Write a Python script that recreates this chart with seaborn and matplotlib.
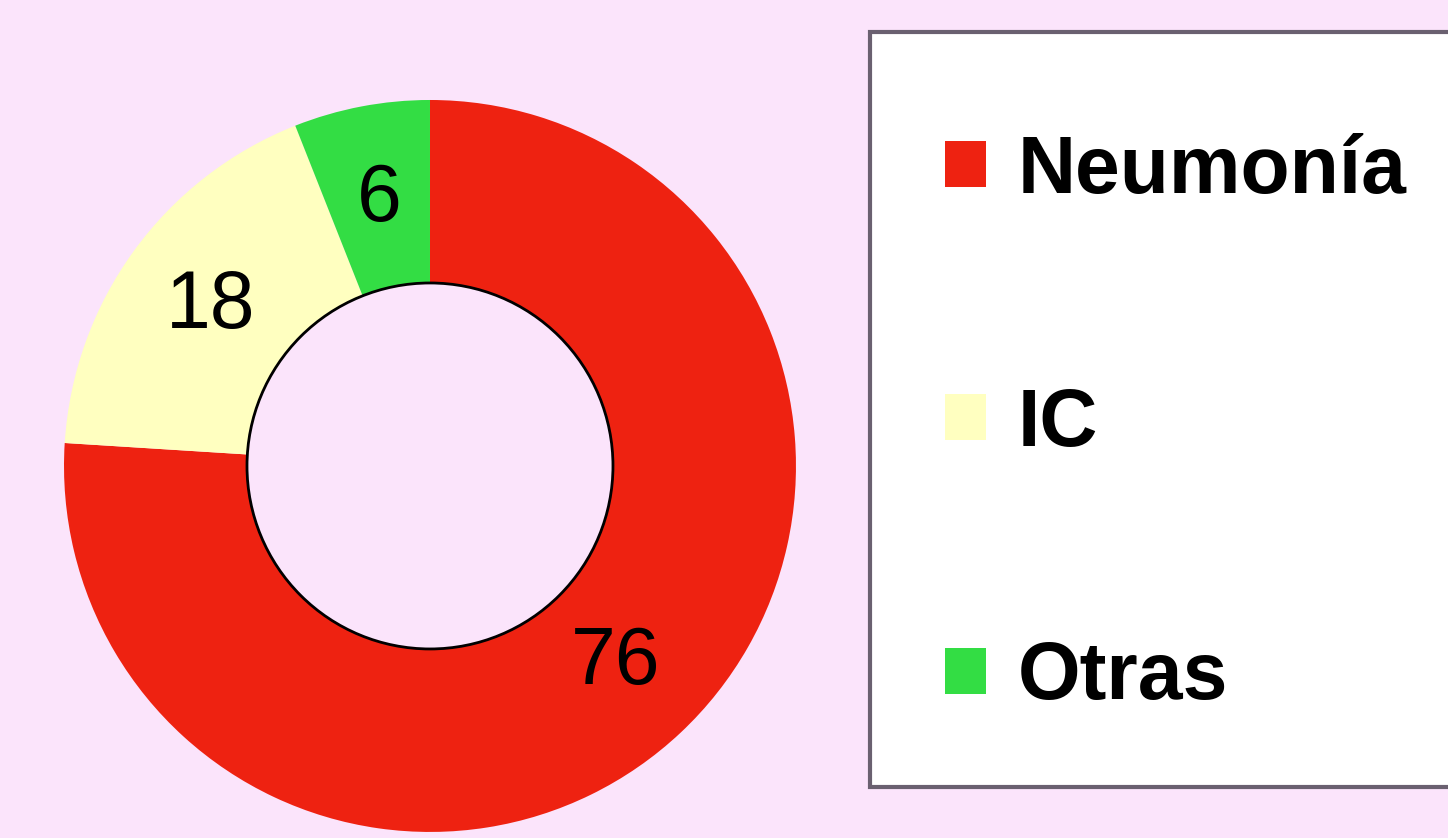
import seaborn as sns
import matplotlib.pyplot as plt
from matplotlib.patches import Rectangle

# data
labels = ['Neumonía', 'IC', 'Otras']
values = [76, 18, 6]
colors = ['#EE2211', '#FFFFC0', '#33DD44']

bg = '#FBE4FB'

sns.set_theme(style='white')
plt.rcParams['font.family'] = ['Liberation Sans', 'DejaVu Sans']
plt.rcParams['text.color'] = 'black'

fig = plt.figure(figsize=(14.48, 8.38), dpi=100, facecolor=bg)

# donut
ax = fig.add_axes([0.0442, 0.0072, 0.5055, 0.8735])
ax.set_facecolor(bg)
wedges, texts, autotexts = ax.pie(
    values, colors=colors, startangle=90, counterclock=False,
    radius=1, wedgeprops=dict(width=0.5, edgecolor='none'),
    autopct=lambda p: '{:.0f}'.format(p * sum(values) / 100),
    pctdistance=0.74, textprops=dict(fontsize=58, color='black'))
# darker rim on the hole
hole = plt.Circle((0, 0), 0.5, fill=False, edgecolor='black', linewidth=2)
ax.add_patch(hole)
ax.set_xlim(-1, 1)
ax.set_ylim(-1, 1)
ax.set_aspect('equal')
ax.axis('off')

# legend box
box = Rectangle((870 / 1448, 1 - 787 / 838), 0.45, (787 - 32) / 838,
                transform=fig.transFigure, facecolor='white',
                edgecolor='#6A6070', linewidth=3, zorder=0)
fig.patches.append(box)

leg = fig.legend(wedges, labels, loc='center left',
                 bbox_to_anchor=(905 / 1448, 1 - 425 / 838),
                 frameon=False, borderpad=0, handlelength=0.5,
                 handleheight=0.5, handletextpad=0.4, labelspacing=2.2,
                 prop=dict(size=58, weight='bold'))
for t in leg.get_texts():
    t.set_color('black')

fig.savefig('out.png', dpi=100, facecolor=bg)
